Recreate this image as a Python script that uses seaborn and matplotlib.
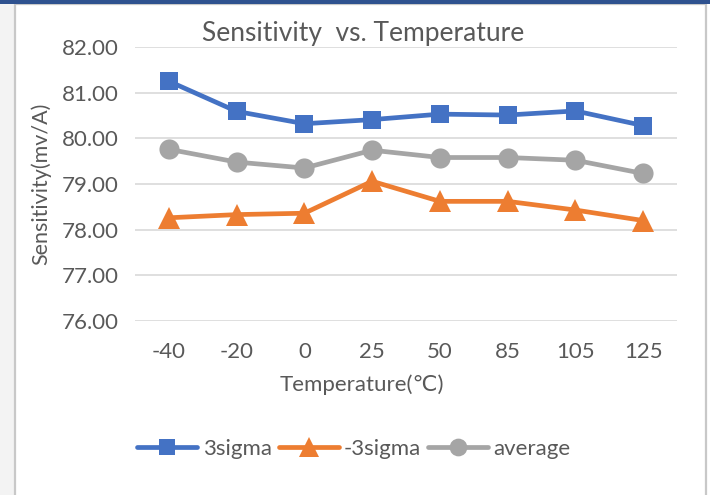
import matplotlib
matplotlib.use("Agg")
import matplotlib.pyplot as plt
from matplotlib.patches import Rectangle
from matplotlib.ticker import FormatStrFormatter
import seaborn as sns
import pandas as pd

# ---- data ----
temperatures = ["-40", "-20", "0", "25", "50", "85", "105", "125"]
sigma_plus = [81.25, 80.59, 80.32, 80.41, 80.53, 80.51, 80.60, 80.28]
sigma_minus = [78.26, 78.33, 78.36, 79.06, 78.62, 78.62, 78.43, 78.20]
average = [79.76, 79.48, 79.35, 79.74, 79.58, 79.58, 79.52, 79.23]
series_names = ["3sigma", "-3sigma", "average"]
y_ticks = [76, 77, 78, 79, 80, 81, 82]

sns.set_theme(style="white")
plt.rcParams["font.family"] = ["Lato", "DejaVu Sans"]
TXT = "#595959"

W, H = 710, 495
fig = plt.figure(figsize=(W / 100, H / 100), dpi=100)
fig.patch.set_facecolor("white")

# frame decorations
fig.patches.append(Rectangle((0, 0), 15 / W, 1, transform=fig.transFigure,
                             facecolor="#F3F3F3", edgecolor="none", zorder=-2))
fig.patches.append(Rectangle((15 / W, -0.01), 691 / W, 1 - 4 / H + 0.01, transform=fig.transFigure,
                             facecolor="white", edgecolor="#C8C8C8", lw=1.6, zorder=-1))
fig.patches.append(Rectangle((0, 1 - 4 / H), 1, 4 / H, transform=fig.transFigure,
                             facecolor="#2F528F", edgecolor="none", zorder=-1))

ax = fig.add_axes([135 / W, 1 - 321 / H, (677 - 135) / W, (321 - 47) / H])
ax.set_zorder(2)
ax.set_facecolor("none")

df = pd.DataFrame({"Temperature": temperatures,
                   "3sigma": sigma_plus, "-3sigma": sigma_minus, "average": average})

styles = {
    "3sigma": dict(color="#4472C4", marker="s", markersize=13),
    "-3sigma": dict(color="#ED7D31", marker="^", markersize=16),
    "average": dict(color="#A5A5A5", marker="o", markersize=14.5),
}
for i, name in enumerate(series_names):
    st = styles[name]
    sns.lineplot(data=df, x="Temperature", y=name, ax=ax, sort=False, label=name,
                 color=st["color"], marker=st["marker"], markersize=st["markersize"],
                 markeredgewidth=0, linewidth=3.4, zorder=3 + i)

ax.set_xlim(-0.5, len(temperatures) - 0.5)
ax.set_ylim(76, 82)
ax.set_yticks(y_ticks)
ax.yaxis.set_major_formatter(FormatStrFormatter("%.2f"))
ax.grid(axis="y", color="#D9D9D9", lw=1.2)
ax.grid(axis="x", visible=False)
for s in ax.spines.values():
    s.set_visible(False)
ax.tick_params(axis="both", length=0, labelsize=16, labelcolor=TXT)
ax.tick_params(axis="y", pad=12)
ax.tick_params(axis="x", pad=15)

ax.set_xlabel("Temperature(℃)", fontsize=16, color=TXT,
              family=["Lato", "DejaVu Sans"])
ax.xaxis.set_label_coords((362 - 135) / 542, (321 - 385) / 274)
ax.xaxis.label.set_va("center")
ax.set_ylabel("Sensitivity(mv/A)", fontsize=15.5, color=TXT)
ax.yaxis.set_label_coords((41 - 135) / 542, 0.5)
ax.yaxis.label.set_va("center")

fig.text(363 / W, 1 - 34 / H, "Sensitivity  vs. Temperature", ha="center", va="center",
         fontsize=19, color=TXT)

ax.legend(loc="center", bbox_to_anchor=(354 / W, 1 - 449 / H), bbox_transform=fig.transFigure,
          ncol=3, frameon=False, fontsize=16, labelcolor=TXT, handlelength=2.7,
          handletextpad=0.25, columnspacing=0.3, borderpad=0, markerscale=0.88)

fig.savefig("out.png", dpi=100)
